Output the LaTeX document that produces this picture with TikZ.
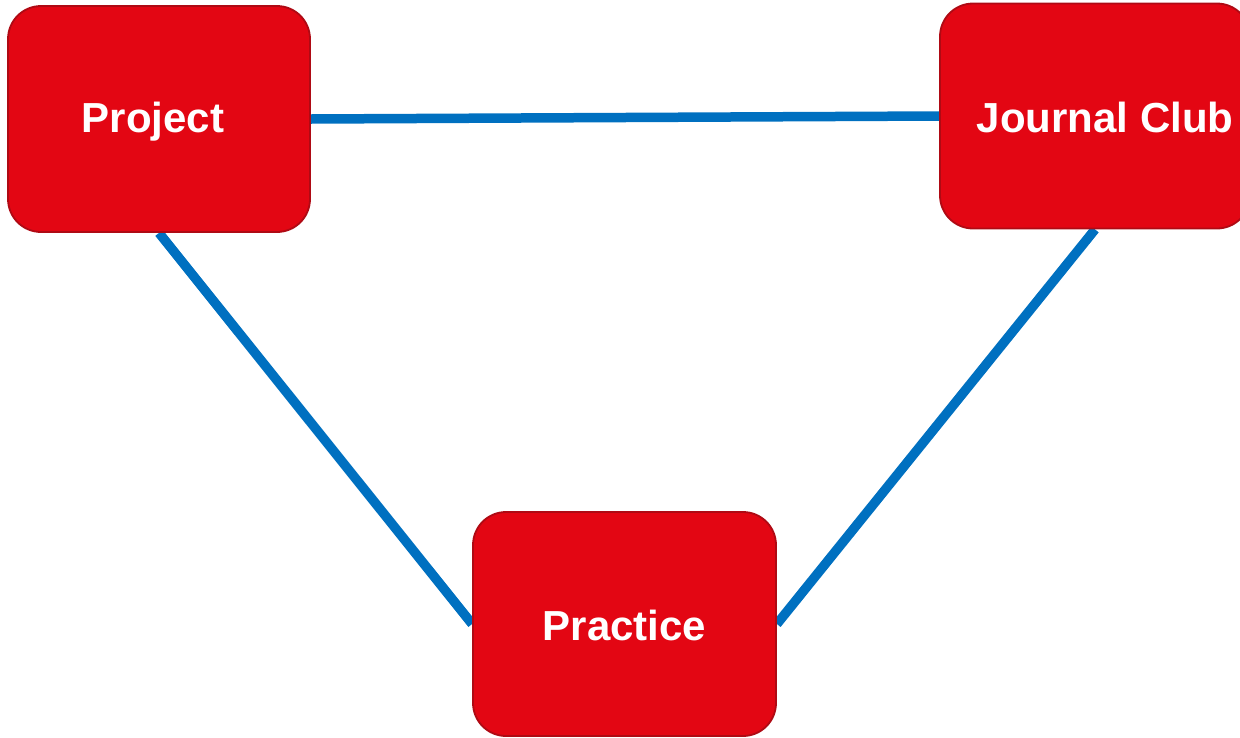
\documentclass[tikz,border=0pt]{standalone}
\usepackage{fontspec}
\setmainfont{Liberation Sans}
\usetikzlibrary{backgrounds}
\definecolor{boxred}{RGB}{227,6,19}
\definecolor{boxborder}{RGB}{175,10,20}
\definecolor{linkblue}{RGB}{0,112,192}
\newcommand{\dropby}[2]{\raisebox{-#1}[\height][\depth]{#2}}
\begin{document}
\begin{tikzpicture}[x=1pt,y=-1pt,
  topic/.style={draw=boxborder, line width=1.8pt, fill=boxred, rounded corners=33pt,
    text=white, font=\fontsize{42}{50}\selectfont\bfseries, inner sep=0pt},
  link/.style={draw=linkblue, line width=9.5pt}]
\useasboundingbox (0,0) rectangle (1240,737);
\node[topic, minimum width=302pt, minimum height=226pt] (project) at (159,119) {\hspace*{-12pt}\dropby{3pt}{Project}};
\node[topic, minimum width=310pt, minimum height=225pt] (journal) at (1095,116) {\hspace*{20pt}\dropby{1pt}{Journal Club}};
\node[topic, minimum width=303pt, minimum height=224pt] (practice) at (624.5,624) {\dropby{1pt}{Practice}};
\begin{pgfonlayer}{background}
\draw[link] (project.east) -- (journal.west);
\draw[link] (project.south) -- (practice.west);
\draw[link] (journal.south) -- (practice.east);
\end{pgfonlayer}
\end{tikzpicture}
\end{document}
